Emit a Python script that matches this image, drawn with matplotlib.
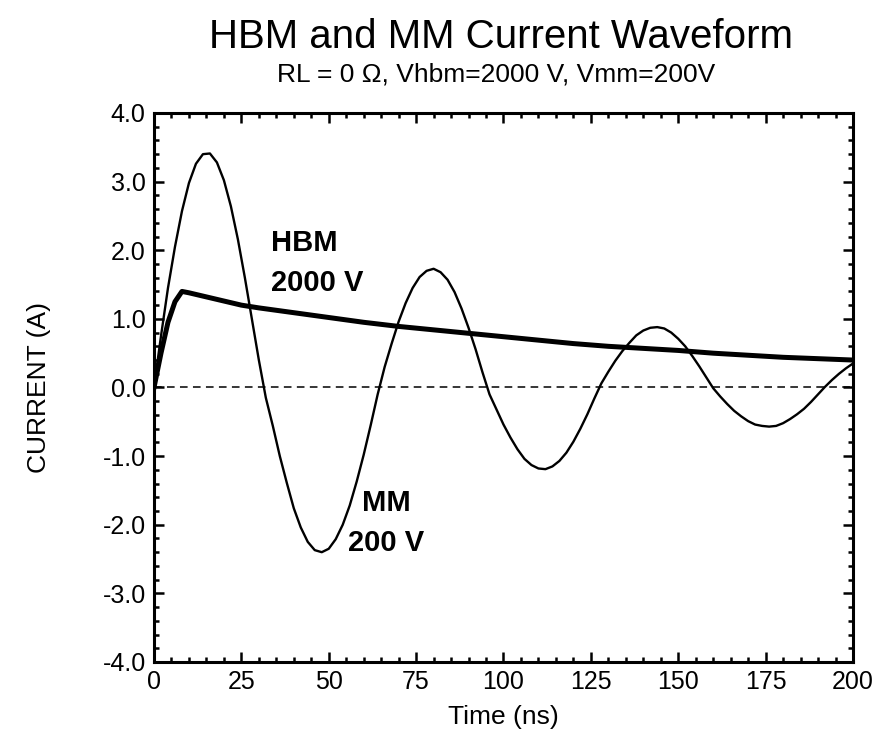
import matplotlib
matplotlib.use("Agg")
import matplotlib.pyplot as plt
from matplotlib.ticker import MultipleLocator, FormatStrFormatter

plt.rcParams['font.family'] = ['Liberation Sans', 'DejaVu Sans']

# ---------- DATA (ns, A) ----------
# HBM discharge: fast rise, slow exponential-like decay
hbm_t = [0, 2, 4, 6, 8, 10, 15, 20, 25, 30, 40, 50, 60, 70, 80, 90,
         100, 110, 120, 130, 140, 150, 160, 170, 180, 190, 200]
hbm_i = [0.0, 0.50, 0.95, 1.25, 1.40, 1.38, 1.32, 1.26, 1.20, 1.16, 1.09,
         1.02, 0.95, 0.89, 0.84, 0.79, 0.74, 0.69, 0.64, 0.60, 0.57, 0.54,
         0.50, 0.47, 0.44, 0.42, 0.40]

# MM discharge: damped ringing, sampled every 2 ns
mm_t = list(range(0, 202, 2))
mm_i = [0.00, 0.75, 1.45, 2.05, 2.57, 2.98, 3.26, 3.40, 3.41, 3.28,
        3.02, 2.64, 2.16, 1.60, 1.00, 0.40, -0.15, -0.56, -1.00, -1.39,
        -1.76, -2.04, -2.25, -2.37, -2.40, -2.35, -2.21, -2.00, -1.72, -1.37,
        -0.98, -0.55, -0.10, 0.30, 0.64, 0.96, 1.23, 1.45, 1.61, 1.70,
        1.73, 1.68, 1.57, 1.39, 1.15, 0.87, 0.56, 0.22, -0.10, -0.32,
        -0.54, -0.73, -0.90, -1.04, -1.13, -1.18, -1.19, -1.15, -1.07, -0.95,
        -0.79, -0.60, -0.39, -0.16, 0.06, 0.23, 0.39, 0.53, 0.65, 0.76,
        0.83, 0.87, 0.88, 0.86, 0.80, 0.71, 0.60, 0.46, 0.31, 0.15,
        -0.01, -0.13, -0.24, -0.34, -0.42, -0.49, -0.54, -0.56, -0.57, -0.56,
        -0.52, -0.46, -0.39, -0.31, -0.21, -0.10, 0.01, 0.11, 0.20, 0.28,
        0.35]

TITLE = "HBM and MM Current Waveform"
SUBTITLE = "RL = 0 \u03a9, Vhbm=2000 V, Vmm=200V"

# ---------- PLOT ----------
fig = plt.figure(figsize=(8.79, 7.39), dpi=100)
ax = fig.add_axes([0.1752, 0.1042, 0.7952, 0.7429])

ax.axhline(0.0, color='black', linestyle=(0, (5, 3.5)), linewidth=1.1)
ax.plot(mm_t, mm_i, color='black', linewidth=1.7)
ax.plot(hbm_t, hbm_i, color='black', linewidth=3.6, solid_joinstyle='round')

ax.text(33.5, 2.10, "HBM", fontsize=21, fontweight='bold', ha='left', va='center')
ax.text(33.5, 1.52, "2000 V", fontsize=21, fontweight='bold', ha='left', va='center')
ax.text(66.4, -1.68, "MM", fontsize=21, fontweight='bold', ha='center', va='center')
ax.text(66.4, -2.27, "200 V", fontsize=21, fontweight='bold', ha='center', va='center')

ax.set_xlim(0, 200)
ax.set_ylim(-4.0, 4.0)
ax.xaxis.set_major_locator(MultipleLocator(25))
ax.xaxis.set_minor_locator(MultipleLocator(5))
ax.yaxis.set_major_locator(MultipleLocator(1.0))
ax.yaxis.set_minor_locator(MultipleLocator(0.2))
ax.yaxis.set_major_formatter(FormatStrFormatter('%.1f'))

ax.tick_params(which='both', direction='in', top=True, right=True, width=1.8)
ax.tick_params(which='major', length=7, labelsize=18, pad=6)
ax.tick_params(which='minor', length=3.5)
for sp in ax.spines.values():
    sp.set_linewidth(2.2)

ax.set_xlabel("Time (ns)", fontsize=19, labelpad=8)
ax.set_ylabel("CURRENT (A)", fontsize=19, labelpad=37)

fig.text(0.570, 0.950, TITLE, fontsize=29, ha='center', va='center')
fig.text(0.564, 0.899, SUBTITLE, fontsize=19, ha='center', va='center')

fig.savefig("out.png", dpi=100)
